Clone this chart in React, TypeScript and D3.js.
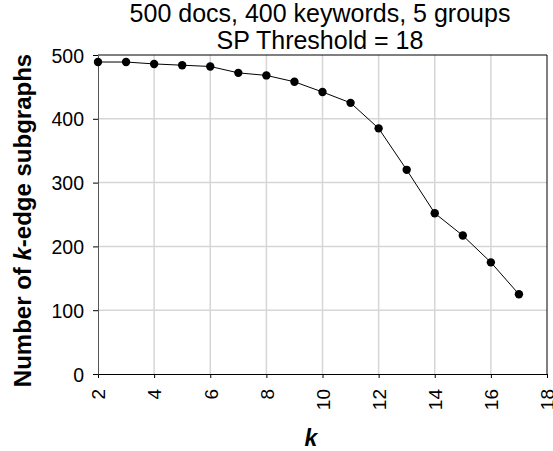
import React, { useRef, useEffect } from 'react';
import * as d3 from 'd3';

const kValues = [2, 3, 4, 5, 6, 7, 8, 9, 10, 11, 12, 13, 14, 15, 16, 17];
const subgraphCounts = [489, 489, 486, 484, 482, 472, 468, 458, 442, 425, 385, 320, 252, 217, 175, 125];
const xTicks = [2, 4, 6, 8, 10, 12, 14, 16, 18];
const yTicks = [0, 100, 200, 300, 400, 500];
const titleLines = ['500 docs, 400 keywords, 5 groups', 'SP Threshold = 18'];

const width = 553;
const height = 451;
const margin = { top: 55, right: 6, bottom: 77, left: 98 };
const font = 'Arial, "Liberation Sans", sans-serif';

const App = () => {
  const svgRef = useRef(null);

  useEffect(() => {
    const svg = d3.select(svgRef.current);
    svg.selectAll('*').remove();

    const x = d3.scaleLinear().domain([2, 18]).range([margin.left, width - margin.right]);
    const y = d3.scaleLinear().domain([0, 500]).range([height - margin.bottom, margin.top]);

    // grid
    svg.append('g')
      .selectAll('line')
      .data(xTicks.slice(1, -1))
      .enter()
      .append('line')
      .attr('x1', d => x(d)).attr('x2', d => x(d))
      .attr('y1', y(500)).attr('y2', y(0))
      .attr('stroke', '#d6d6d6').attr('stroke-width', 1.5);

    svg.append('g')
      .selectAll('line')
      .data(yTicks.slice(1, -1))
      .enter()
      .append('line')
      .attr('x1', x(2)).attr('x2', x(18))
      .attr('y1', d => y(d)).attr('y2', d => y(d))
      .attr('stroke', '#d6d6d6').attr('stroke-width', 1.5);

    // frame top/right
    svg.append('line')
      .attr('x1', x(2)).attr('x2', x(18)).attr('y1', y(500)).attr('y2', y(500))
      .attr('stroke', '#000');
    svg.append('line')
      .attr('x1', x(18)).attr('x2', x(18)).attr('y1', y(500)).attr('y2', y(0))
      .attr('stroke', '#000');

    // axes
    const xAxis = svg.append('g')
      .attr('transform', `translate(0,${y(0)})`)
      .call(d3.axisBottom(x).tickValues(xTicks).tickSize(4).tickSizeOuter(0));
    xAxis.select('.domain').attr('stroke', '#000');
    xAxis.selectAll('.tick line').attr('stroke', '#000');
    xAxis.selectAll('.tick text')
      .attr('font-family', font)
      .attr('font-size', 19)
      .attr('fill', '#000')
      .attr('transform', 'rotate(-90)')
      .attr('text-anchor', 'end')
      .attr('x', -15)
      .attr('y', 0)
      .attr('dy', '0.36em');

    const yAxis = svg.append('g')
      .attr('transform', `translate(${x(2)},0)`)
      .call(d3.axisLeft(y).tickValues(yTicks).tickSize(5).tickSizeOuter(0));
    yAxis.select('.domain').attr('stroke', '#555');
    yAxis.selectAll('.tick line').attr('stroke', '#000');
    yAxis.selectAll('.tick text')
      .attr('font-family', font)
      .attr('font-size', 19.5)
      .attr('fill', '#000')
      .attr('x', -14)
      .attr('dy', '0.36em');

    // line + markers
    const pts = kValues.map((k, i) => [k, subgraphCounts[i]]);
    const line = d3.line().x(d => x(d[0])).y(d => y(d[1]));
    svg.append('path')
      .datum(pts)
      .attr('d', line)
      .attr('fill', 'none')
      .attr('stroke', '#000')
      .attr('stroke-width', 1);

    svg.append('g')
      .selectAll('circle')
      .data(pts)
      .enter()
      .append('circle')
      .attr('cx', d => x(d[0]))
      .attr('cy', d => y(d[1]))
      .attr('r', 4.2)
      .attr('fill', '#000');

    // title
    svg.append('g')
      .selectAll('text')
      .data(titleLines)
      .enter()
      .append('text')
      .attr('x', 320)
      .attr('y', (d, i) => 21.5 + i * 27.5)
      .attr('text-anchor', 'middle')
      .attr('font-family', font)
      .attr('font-size', 25)
      .text(d => d);

    // y label
    const yl = svg.append('text')
      .attr('transform', `translate(31,${(y(0) + y(500)) / 2 + 6}) rotate(-90)`)
      .attr('text-anchor', 'middle')
      .attr('font-family', font)
      .attr('font-size', 24)
      .attr('font-weight', 'bold');
    yl.append('tspan').text('Number of ');
    yl.append('tspan').attr('font-style', 'italic').text('k');
    yl.append('tspan').text('-edge subgraphs');

    // x label
    svg.append('text')
      .attr('x', 311)
      .attr('y', 446)
      .attr('text-anchor', 'middle')
      .attr('font-family', font)
      .attr('font-size', 23)
      .attr('font-weight', 'bold')
      .attr('font-style', 'italic')
      .text('k');
  }, []);

  return (
    <svg ref={svgRef} width={width} height={height} style={{ position: 'absolute', left: 0, top: 0 }}></svg>
  );
};

export default App;
